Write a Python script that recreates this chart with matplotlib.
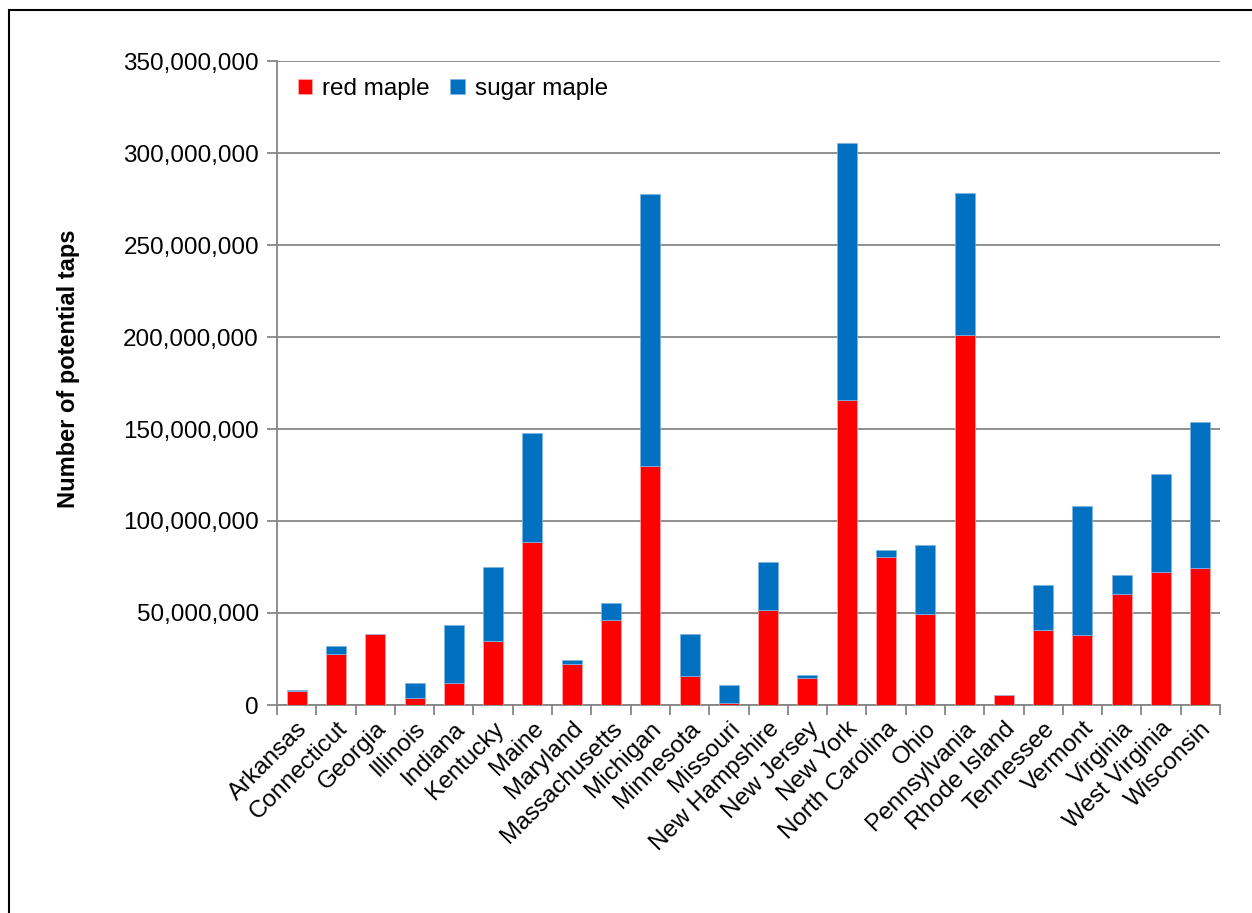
import matplotlib.pyplot as plt
from matplotlib.patches import Rectangle
from matplotlib.ticker import FuncFormatter, MultipleLocator
import numpy as np

states = ['Arkansas', 'Connecticut', 'Georgia', 'Illinois', 'Indiana', 'Kentucky',
          'Maine', 'Maryland', 'Massachusetts', 'Michigan', 'Minnesota', 'Missouri',
          'New Hampshire', 'New Jersey', 'New York', 'North Carolina', 'Ohio',
          'Pennsylvania', 'Rhode Island', 'Tennessee', 'Vermont', 'Virginia',
          'West Virginia', 'Wisconsin']

# potential taps, in millions
red_maple = [7.5, 27.6, 38.5, 3.9, 12.1, 34.7, 88.7, 22.4, 46.1, 129.8, 15.7, 1.3,
             51.4, 14.6, 165.8, 80.4, 49.2, 201.1, 5.6, 40.9, 38.3, 60.4, 72.5, 74.4]
sugar_maple = [0.5, 4.7, 0.0, 8.2, 31.5, 40.2, 59.2, 1.8, 9.4, 147.9, 22.8, 9.7,
               26.2, 1.7, 139.8, 4.1, 37.9, 77.2, 0.0, 24.5, 70.1, 10.4, 53.1, 79.6]

red = np.array(red_maple) * 1e6
sugar = np.array(sugar_maple) * 1e6
x = np.arange(len(states))

plt.rcParams['font.family'] = ['Liberation Sans', 'DejaVu Sans']

fig = plt.figure(figsize=(12.52, 9.13), dpi=100)
ax = fig.add_axes([277 / 1252, 1 - 705 / 913, (1220 - 277) / 1252, (705 - 61) / 913])

ax.bar(x, red, width=0.51, color='#ff0000', label='red maple', zorder=3,
       edgecolor='#ffb0b0', linewidth=0.5)
ax.bar(x, sugar, width=0.51, bottom=red, color='#0070c0', label='sugar maple', zorder=3,
       edgecolor='#7fb4e0', linewidth=0.5)

ax.set_xlim(-0.5, len(states) - 0.5)
ax.set_ylim(0, 350e6)
ax.yaxis.set_major_locator(MultipleLocator(50e6))
ax.yaxis.set_major_formatter(FuncFormatter(lambda v, p: f'{int(v):,}'))
ax.grid(axis='y', color='#868686', linewidth=1.3, zorder=0)

ax.set_xticks(x)
ax.set_xticklabels(states, rotation=45, ha='right', rotation_mode='anchor', fontsize=17.5)
ax.tick_params(axis='x', length=0, pad=9)
ax.set_xticks(np.arange(-0.5, len(states)), minor=True)
ax.tick_params(axis='x', which='minor', length=7, width=1.3, color='#868686')
ax.tick_params(axis='y', labelsize=17.5, length=7, width=1.3, color='#868686', pad=6)

for side in ['top', 'right']:
    ax.spines[side].set_visible(False)
for side in ['left', 'bottom']:
    ax.spines[side].set_color('#868686')
    ax.spines[side].set_linewidth(1.3)

ax.set_ylabel('Number of potential taps', fontsize=17, fontweight='bold')
ax.yaxis.set_label_coords(-0.209, 0.522)

ax.legend(loc='upper left', bbox_to_anchor=(0.004, 1.0), ncol=2, frameon=False,
          fontsize=17.5, handlelength=0.6, handleheight=0.6, handletextpad=0.4,
          columnspacing=0.85, borderaxespad=0.3)

# outer chart frame
fig.patches.append(Rectangle((9 / 1252, -0.05), 1.2, 1 - 10 / 913 + 0.05,
                             transform=fig.transFigure, fill=False,
                             edgecolor='black', linewidth=1.5))

fig.savefig('out.png', dpi=100)
